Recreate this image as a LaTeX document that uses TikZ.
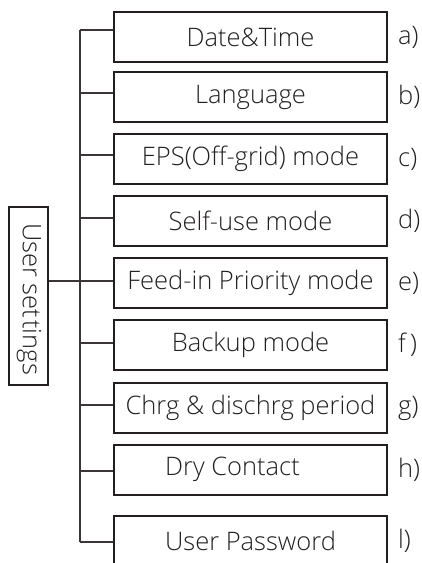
\documentclass[tikz,border=0pt]{standalone}
\usepackage{fontspec}
\setmainfont{Open Sans}[UprightFont=* Light,Ligatures=NoCommon]
\definecolor{ink}{HTML}{231F20}
\definecolor{wire}{HTML}{3A3536}
\begin{document}
\begin{tikzpicture}[x=1pt,y=-1pt,
  item/.style={draw=ink,line width=2pt,minimum width=273pt,minimum height=50pt,inner sep=0pt,
    text=ink,font=\fontsize{25.5}{28}\selectfont},
  tag/.style={anchor=west,inner sep=0pt,text=ink,font=\fontsize{25.5}{28}\selectfont},
  wire/.style={draw=wire,line width=1.3pt},
  rootbox/.style={draw=ink,line width=1.6pt,minimum width=39pt,minimum height=178pt,inner sep=0pt},
  roottext/.style={rotate=-90,inner sep=0pt,text=ink,font=\fontsize{25.5}{28}\selectfont}]
\useasboundingbox (0,0) rectangle (422,563);
\begin{scope}
\clip (0,0) rectangle (422,563);
\node[rootbox] (root) at (28.5,296) {};
\node[roottext] (roott) at (29,299) {User set\kern2pt tings};
\node[item] (a) at (250.5,37) {Date\&Time};
\node[item] (b) at (250.5,97) {Language};
\node[item] (c) at (250.5,159) {EPS(Off-grid) mode};
\node[item] (d) at (250.5,221) {Self-use mode};
\node[item] (e) at (250.5,283) {Feed-in Priority mode};
\node[item] (f) at (250.5,345) {Backup mode};
\node[item] (g) at (250.5,408) {Chrg \& dischrg period};
\node[item] (h) at (250.5,469.5) {\hspace*{-36pt}Dry Contact};
\node[item] (l) at (250.5,541) {User Password};
\end{scope}
\foreach \n/\t in {a/a),b/b),c/c),d/d),e/e),f/f\,),g/g),h/h),l/l)}
  \node[tag] (t\n) at ([xshift=10pt]\n.east) {\t};
\coordinate (trunkTop) at (80,30);
\coordinate (trunkBot) at (80,542);
\draw[wire] (trunkTop) -- (trunkBot);
\foreach \n/\y in {a/30,b/93,c/155,d/218,e/281,f/343,g/405,h/471,l/542}
  \draw[wire] (80,\y) -- (\n.west |- 0,\y);
\draw[wire] (root.east |- 0,281) -- (80,281);
\end{tikzpicture}
\end{document}
